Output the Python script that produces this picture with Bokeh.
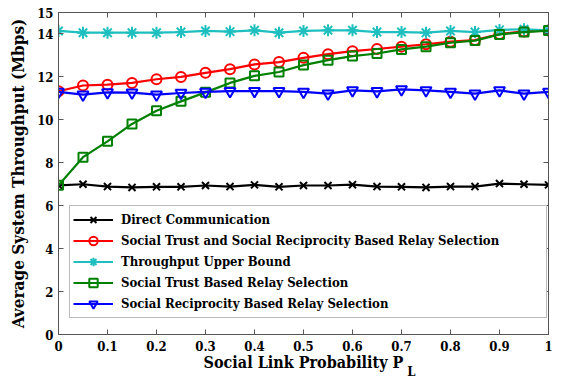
from bokeh.plotting import figure
from bokeh.models import (LinearAxis, Legend, LegendItem, Range1d,
                          FixedTicker, CustomJSTickFormatter)
from bokeh.embed import file_html
from bokeh.resources import INLINE

# ---- data ----
pl = [0, 0.05, 0.1, 0.15, 0.2, 0.25, 0.3, 0.35, 0.4, 0.45, 0.5,
      0.55, 0.6, 0.65, 0.7, 0.75, 0.8, 0.85, 0.9, 0.95, 1]

direct = [6.95, 7.0, 6.89, 6.85, 6.88, 6.88, 6.94, 6.89, 6.97, 6.88, 6.94,
          6.94, 6.98, 6.89, 6.88, 6.85, 6.89, 6.89, 7.03, 7.0, 6.97]
trust_recip = [11.33, 11.6, 11.64, 11.72, 11.89, 12.0, 12.19, 12.36, 12.58, 12.69, 12.89,
               13.06, 13.2, 13.3, 13.41, 13.52, 13.64, 13.72, 14.0, 14.12, 14.16]
upper = [14.14, 14.06, 14.06, 14.06, 14.06, 14.09, 14.14, 14.11, 14.17, 14.06, 14.14,
         14.17, 14.17, 14.09, 14.09, 14.06, 14.14, 14.09, 14.19, 14.22, 14.17]
trust = [6.95, 8.26, 9.0, 9.81, 10.42, 10.86, 11.28, 11.72, 12.05, 12.23, 12.55,
         12.78, 12.97, 13.09, 13.28, 13.41, 13.59, 13.69, 13.98, 14.09, 14.16]
recip = [11.3, 11.17, 11.28, 11.27, 11.17, 11.25, 11.3, 11.34, 11.34, 11.34, 11.3,
         11.22, 11.37, 11.33, 11.42, 11.37, 11.3, 11.22, 11.37, 11.22, 11.3]

labels = ["Direct Communication",
          "Social Trust and Social Reciprocity Based Relay Selection",
          "Throughput Upper Bound",
          "Social Trust Based Relay Selection",
          "Social Reciprocity Based Relay Selection"]
x_ticks = [0, 0.1, 0.2, 0.3, 0.4, 0.5, 0.6, 0.7, 0.8, 0.9, 1]
y_ticks = [0, 2, 4, 6, 8, 10, 12, 14, 15]
x_title = "Social Link Probability P"
x_title_sub = "L"
y_title = "Average System Throughput (Mbps)"

FONT = "DejaVu Serif Condensed"

p = figure(width=564, height=386, output_backend="svg", toolbar_location=None,
           x_range=Range1d(0, 1), y_range=Range1d(0, 15),
           min_border_left=58, min_border_right=16,
           min_border_top=12, min_border_bottom=52)
p.grid.visible = False
p.outline_line_color = "#555555"
p.background_fill_color = "white"
p.border_fill_color = "white"

fmt = CustomJSTickFormatter(code="return String(Math.round(tick*10)/10);")
blank = CustomJSTickFormatter(code="return '';")

def style_axis(ax, ticks):
    ax.ticker = FixedTicker(ticks=ticks)
    ax.major_tick_in = 5
    ax.major_tick_out = 0
    ax.minor_tick_in = 0
    ax.minor_tick_out = 0
    ax.axis_line_color = "#555555"
    ax.major_tick_line_color = "#555555"
    ax.major_label_text_font = FONT
    ax.major_label_text_font_style = "bold"
    ax.major_label_text_font_size = "13px"
    ax.major_label_text_color = "black"
    ax.axis_label_text_font = FONT
    ax.axis_label_text_font_style = "bold"
    ax.axis_label_text_font_size = "17px"
    ax.axis_label_text_color = "black"

xa = p.xaxis[0]
style_axis(xa, x_ticks)
xa.formatter = fmt
xa.major_label_standoff = 6
xa.axis_label = x_title
xa.axis_label_text_font_size = "16px"
xa.axis_label_standoff = -1

ya = p.yaxis[0]
style_axis(ya, y_ticks)
ya.major_label_standoff = 5
ya.axis_label = y_title
ya.axis_label_standoff = 6

top = LinearAxis(formatter=blank)
style_axis(top, x_ticks)
top.major_label_standoff = 0
p.add_layout(top, "above")
right = LinearAxis(formatter=blank)
style_axis(right, y_ticks)
right.major_label_standoff = 0
p.add_layout(right, "right")

# subscript "L" of the x-axis title, drawn as the single label of a bare axis
sub_axis = LinearAxis(ticker=FixedTicker(ticks=[0.72]),
                      formatter=CustomJSTickFormatter(code="return '%s';" % x_title_sub))
sub_axis.axis_line_color = None
sub_axis.major_tick_line_color = None
sub_axis.minor_tick_line_color = None
sub_axis.major_label_standoff = -17
sub_axis.major_label_text_font = FONT
sub_axis.major_label_text_font_style = "bold"
sub_axis.major_label_text_font_size = "13px"
sub_axis.major_label_text_color = "black"
p.add_layout(sub_axis, "below")

series = [
    (direct, "black", "x", 10),
    (trust_recip, "#ff0000", "circle", 10),
    (upper, "#1fbfbf", "asterisk", 12),
    (trust, "#008000", "square", 9),
    (recip, "#0000ff", "inverted_triangle", 11),
]
items = []
for (vals, col, mk, sz), lab in zip(series, labels):
    lr = p.line(pl, vals, line_color=col, line_width=2.2)
    sr = p.scatter(pl, vals, marker=mk, size=sz, line_color=col,
                   fill_alpha=0, line_width=2)
    items.append(LegendItem(label=lab, renderers=[lr, sr]))

legend = Legend(items=items, location=(11, 16),
                padding=3, spacing=0, margin=0,
                label_height=21, glyph_height=21, glyph_width=40,
                label_standoff=8, label_width=422,
                label_text_font=FONT, label_text_font_style="bold",
                label_text_font_size="13px", label_text_color="black",
                border_line_color="#777777", border_line_width=1,
                background_fill_color="white", background_fill_alpha=1)
p.add_layout(legend)

open("out.html", "w").write(file_html(p, INLINE))
